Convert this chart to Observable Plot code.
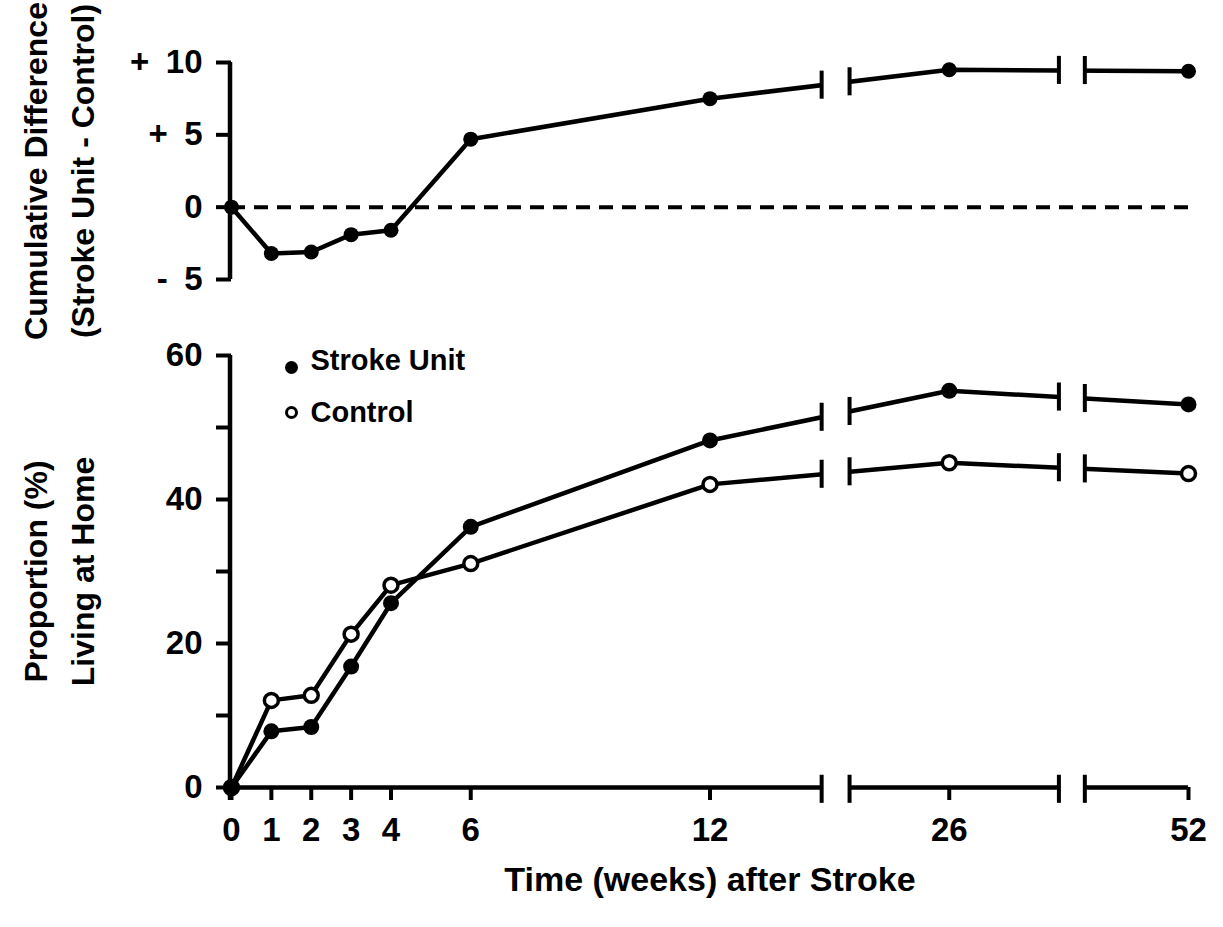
<!DOCTYPE html>
<html><head><meta charset="utf-8">
<script src="https://cdn.jsdelivr.net/npm/d3@7"></script>
<script src="https://cdn.jsdelivr.net/npm/@observablehq/plot@0.6"></script>
<style>
html,body{margin:0;padding:0;background:#fff;}
#chart{position:relative;width:1223px;height:927px;background:#fff;}
#chart svg{position:absolute;left:0;overflow:visible;}
</style></head><body><div id="chart"></div>
<script>
// ---- data ----
const weeks = [0, 1, 2, 3, 4, 6, 12, 26, 52];
const strokeUnit = [0, 7.8, 8.4, 16.8, 25.6, 36.2, 48.2, 55.1, 53.2];
const control = [0, 12.1, 12.8, 21.3, 28.1, 31.1, 42.1, 45.1, 43.6];
const difference = [0, -3.2, -3.1, -1.9, -1.6, 4.7, 7.5, 9.5, 9.4];
const diffTicks = [-5, 0, 5, 10];
const propTicks = [0, 10, 20, 30, 40, 50, 60];
const propLabels = [0, 20, 40, 60];
const seriesNames = ["Stroke Unit", "Control"];
const topTitle = "Cumulative Difference\n(Stroke Unit - Control)";
const bottomTitle = "Proportion (%)\nLiving at Home";
const xTitle = "Time (weeks) after Stroke";

// ---- broken time axis: weeks 0–12 linear, then compressed to 26 and 52 ----
const axisPos = new Map([[0,0],[1,1],[2,2],[3,3],[4,4],[6,6],[12,12],[26,18],[52,24]]);
const pos = w => axisPos.get(w);
const breaks = [[14.8, 15.5], [20.75, 21.4]];
const axisSegments = [[-0.05, breaks[0][0]], [breaks[0][1], breaks[1][0]], [breaks[1][1], 24]];
const breakEdges = breaks.flat();

const rows = vals => weeks.map((w, i) => ({p: pos(w), v: vals[i]}));
function yAt(vals, p) {
  const P = weeks.map(pos);
  for (let i = 0; i < P.length - 1; i++) {
    if (p >= P[i] && p <= P[i+1]) return vals[i] + (vals[i+1]-vals[i]) * (p - P[i]) / (P[i+1]-P[i]);
  }
  return vals[vals.length-1];
}
const breakMarks = vals => breakEdges.map(p => ({p, v: yAt(vals, p)}));

const FONT = "'Liberation Sans', Arial, Helvetica, sans-serif";
const style = {fontFamily: FONT, fontWeight: "bold", fontSize: "33px", color: "#000", background: "transparent"};
const common = {width: 1223, marginLeft: 231, marginRight: 35, style};
const fmtDiff = d => d > 0 ? `+\u2002${d}` : d < 0 ? `-\u2002${-d}` : "0";
const TICK_FS = 33, TITLE_FS = 32;

// ---- top panel: cumulative difference ----
const diffData = rows(difference);
const topPlot = Plot.plot({
  ...common,
  height: 300, marginTop: 62, marginBottom: 21,
  x: {domain: [0, 24], axis: null},
  y: {domain: [-5, 10], axis: null},
  marks: [
    Plot.ruleY([0], {x1: 0, x2: 24, stroke: "black", strokeWidth: 4, strokeDasharray: "14,9"}),
    Plot.line(diffData, {x: "p", y: "v", stroke: "black", strokeWidth: 4.5}),
    Plot.rect(breaks, {x1: d => d[0], x2: d => d[1], y1: 2, y2: 11.5, fill: "white"}),
    Plot.ruleX(breakMarks(difference), {x: "p", y1: d => d.v - 0.97, y2: d => d.v + 0.97, stroke: "black", strokeWidth: 4}),
    Plot.dot(diffData, {x: "p", y: "v", r: 7.5, fill: "black"}),
    Plot.ruleX([0], {y1: -5, y2: 10, stroke: "black", strokeWidth: 4.5, dx: -1.5}),
    Plot.axisY({ticks: diffTicks, tickFormat: fmtDiff, tickSize: 15, tickPadding: 14, strokeWidth: 4, fontSize: TICK_FS, fontWeight: "bold", label: null}),
    Plot.text([topTitle], {text: d => d, frameAnchor: "left", textAnchor: "middle", rotate: -90, dx: -176, lineAnchor: "middle", lineHeight: 1.45, fontSize: TITLE_FS, fontWeight: "bold"})
  ]
});
topPlot.style.top = "0px";

// ---- bottom panel: proportion living at home ----
const suData = rows(strokeUnit), ctData = rows(control);
const tickPos = weeks.map(pos);
const bottomPlot = Plot.plot({
  ...common,
  height: 627, marginTop: 55, marginBottom: 140,
  x: {domain: [0, 24], axis: null},
  y: {domain: [0, 60], axis: null},
  marks: [
    Plot.line(ctData, {x: "p", y: "v", stroke: "black", strokeWidth: 4.5}),
    Plot.line(suData, {x: "p", y: "v", stroke: "black", strokeWidth: 4.5}),
    Plot.rect(breaks, {x1: d => d[0], x2: d => d[1], y1: 30, y2: 62, fill: "white"}),
    Plot.ruleX(breakMarks(strokeUnit), {x: "p", y1: d => d.v - 1.95, y2: d => d.v + 1.95, stroke: "black", strokeWidth: 4}),
    Plot.ruleX(breakMarks(control), {x: "p", y1: d => d.v - 1.95, y2: d => d.v + 1.95, stroke: "black", strokeWidth: 4}),
    Plot.ruleY(axisSegments, {x1: d => d[0], x2: d => d[1], y: 0, stroke: "black", strokeWidth: 4.5}),
    Plot.ruleX(breakEdges, {x: d => d, y1: -2.2, y2: 1.7, stroke: "black", strokeWidth: 4}),
    Plot.axisX({ticks: tickPos, tickFormat: p => weeks[tickPos.indexOf(p)], tickSize: 13, tickPadding: 17, strokeWidth: 4, fontSize: TICK_FS, fontWeight: "bold", label: null}),
    Plot.axisY({ticks: propTicks, tickFormat: d => propLabels.includes(d) ? d : "", tickSize: 15, tickPadding: 14, strokeWidth: 4, fontSize: TICK_FS, fontWeight: "bold", label: null}),
    Plot.ruleX([0], {y1: -1.8, y2: 60, stroke: "black", strokeWidth: 4.5, dx: -1.5}),
    Plot.dot(ctData, {x: "p", y: "v", r: 7, fill: "white", stroke: "black", strokeWidth: 3.5}),
    Plot.dot(suData, {x: "p", y: "v", r: 8, fill: "black"}),
    // legend
    Plot.dot([seriesNames[0]], {frameAnchor: "top-left", dx: 60, dy: 12, r: 6.5, fill: "black"}),
    Plot.dot([seriesNames[1]], {frameAnchor: "top-left", dx: 60, dy: 57, r: 5, fill: "white", stroke: "black", strokeWidth: 3}),
    Plot.text([seriesNames[0]], {text: d => d, frameAnchor: "top-left", dx: 79, dy: 5, textAnchor: "start", lineAnchor: "middle", fontSize: 29, fontWeight: "bold"}),
    Plot.text([seriesNames[1]], {text: d => d, frameAnchor: "top-left", dx: 79, dy: 57, textAnchor: "start", lineAnchor: "middle", fontSize: 29, fontWeight: "bold"}),
    Plot.text([bottomTitle], {text: d => d, frameAnchor: "left", textAnchor: "middle", rotate: -90, dx: -176, lineAnchor: "middle", lineHeight: 1.45, fontSize: TITLE_FS, fontWeight: "bold"}),
    Plot.text([xTitle], {text: d => d, frameAnchor: "bottom", dy: 93, lineAnchor: "middle", fontSize: 34, fontWeight: "bold"})
  ]
});
bottomPlot.style.top = "300px";

const chart = document.getElementById("chart");
chart.appendChild(topPlot);
chart.appendChild(bottomPlot);
</script>
</body></html>
